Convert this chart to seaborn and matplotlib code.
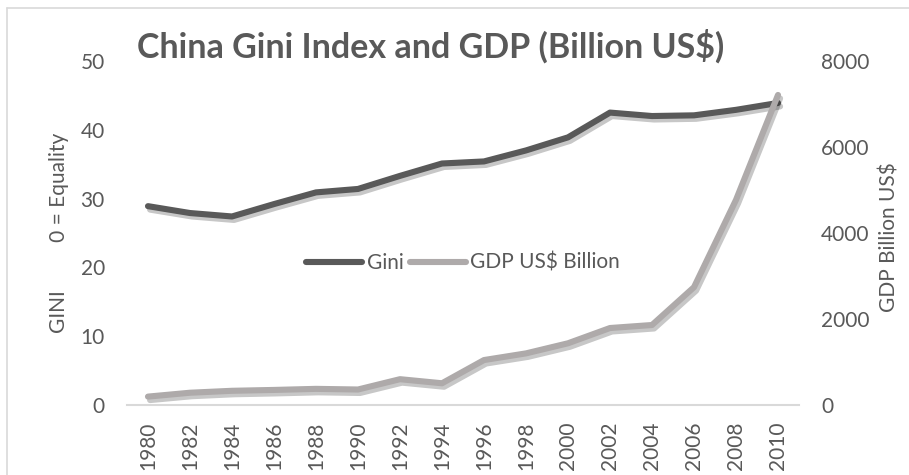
import matplotlib
matplotlib.use("Agg")
import matplotlib.pyplot as plt
import matplotlib.patheffects as pe
from matplotlib.lines import Line2D
import pandas as pd
import seaborn as sns

# Values
years = [1980, 1982, 1984, 1986, 1988, 1990, 1992, 1994,
         1996, 1998, 2000, 2002, 2004, 2006, 2008, 2010]
gini = [28.9, 27.9, 27.4, 29.2, 30.9, 31.4, 33.3, 35.1,
        35.4, 37.0, 38.9, 42.5, 42.0, 42.1, 42.9, 43.9]
gdp = [195, 285, 330, 350, 375, 360, 600, 505,
       1045, 1200, 1435, 1790, 1860, 2740, 4770, 7210]

df = pd.DataFrame({"year": years, "gini": gini, "gdp": gdp})

sns.set_theme(style="white")
plt.rcParams["font.family"] = ["Lato", "DejaVu Sans"]

text_color = "#595959"
gini_color = "#595959"
gdp_color = "#AEAAAA"
axis_color = "#D9D9D9"
fs = 15

fig = plt.figure(figsize=(9.09, 4.75), dpi=100)
ax = fig.add_axes([0.1397, 0.1474, 0.7393, 0.7242])
ax2 = ax.twinx()

shadow = [pe.SimpleLineShadow(offset=(1.5, -2.5), shadow_color="black", alpha=0.22),
          pe.Normal()]

sns.lineplot(data=df, x="year", y="gini", color=gini_color, linewidth=4.4,
             ax=ax, label="Gini", legend=False, path_effects=shadow,
             solid_capstyle="round")
sns.lineplot(data=df, x="year", y="gdp", color=gdp_color, linewidth=4.4,
             ax=ax2, label="GDP US$ Billion", legend=False, path_effects=shadow,
             solid_capstyle="round")

ax.set_xlim(1979, 2011)
ax.set_ylim(0, 50)
ax2.set_ylim(0, 8000)
ax.set_xticks(years)
ax.set_xticklabels([str(y) for y in years], rotation=90)
ax.set_yticks(range(0, 51, 10))
ax2.set_yticks(range(0, 8001, 2000))

ax.set_xlabel("")
ax.set_ylabel("")
ax2.set_ylabel("")

for a in (ax, ax2):
    for s in a.spines.values():
        s.set_visible(False)
    a.grid(False)
ax.spines["bottom"].set_visible(True)
ax.spines["bottom"].set_color(axis_color)
ax.spines["bottom"].set_linewidth(1.5)

ax.tick_params(axis="y", length=0, pad=16, labelsize=fs, labelcolor=text_color)
ax.tick_params(axis="x", length=0, pad=12, labelsize=fs, labelcolor=text_color)
ax2.tick_params(axis="y", length=0, pad=16, labelsize=fs, labelcolor=text_color)

ax.text(-0.101, 0.5, "GINI" + " " * 9 + "0 = Equality", transform=ax.transAxes,
        rotation=90, ha="center", va="center", fontsize=fs, color=text_color)
ax.text(1.135, 0.488, "GDP Billion US$", transform=ax.transAxes,
        rotation=90, ha="center", va="center", fontsize=fs, color=text_color)

fig.text(0.474, 0.903, "China Gini Index and GDP (Billion US$)", ha="center",
         va="center", fontsize=24.5, fontweight="bold", color=text_color)

h1, l1 = ax.get_legend_handles_labels()
h2, l2 = ax2.get_legend_handles_labels()
handles = [Line2D([], [], color=gini_color, linewidth=4.4, solid_capstyle="round"),
           Line2D([], [], color=gdp_color, linewidth=4.4, solid_capstyle="round")]
ax2.legend(handles, l1 + l2, loc="center", bbox_to_anchor=(0.5, 0.413), ncol=2,
           frameon=False, fontsize=fs, handlelength=2.7, handletextpad=0.2,
           columnspacing=0.3, labelcolor=text_color)

# chart border (left and top edges visible in the reference)
fig.add_artist(Line2D([7 / 909, 7 / 909], [0, 1 - 8 / 475], color=axis_color,
                      linewidth=1.2, transform=fig.transFigure))
fig.add_artist(Line2D([7 / 909, 1], [1 - 8 / 475, 1 - 8 / 475], color=axis_color,
                      linewidth=1.2, transform=fig.transFigure))

fig.savefig("out.png", dpi=100, facecolor="white")
